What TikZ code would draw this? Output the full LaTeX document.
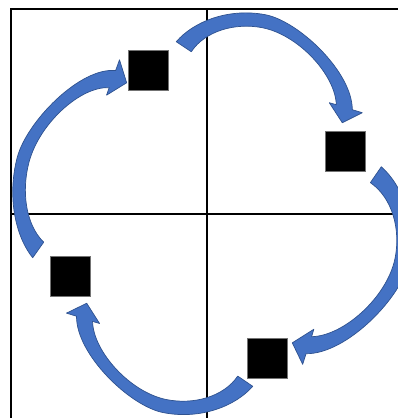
\documentclass[tikz,border=0pt]{standalone}
\usepackage{tikz}
\usetikzlibrary{calc}
\definecolor{arrowblue}{RGB}{68,114,196}
\definecolor{arrowedge}{RGB}{47,82,143}
\tikzset{
  grid line/.style={
    line width=1.6pt,
    color=black
  },
  box/.style={
    rectangle,
    fill=black,
    draw=black!55,
    line width=0.4pt,
    inner sep=0pt,
    minimum size=1cm
  },
  bent arrow/.style={
    fill=arrowblue,
    draw=arrowedge,
    line width=0.5pt,
    line join=round
  }
}
% one curved block arrow, tail at the origin, in pixel units (y up)
\newcommand{\bentarrow}{%
  \filldraw[bent arrow] (0,0)
    .. controls (17,20) and (52,34) .. (89,27)
    .. controls (122,20.8) and (176,-30) .. (176,-68)
    -- (186,-71) -- (166,-81) -- (153,-61) -- (160,-63)
    .. controls (159,-33) and (122,7) .. (86,14)
    .. controls (59,19.2) and (29,11) .. (15,-10)
    -- cycle;}

\begin{document}
\begin{tikzpicture}[x=0.025cm, y=-0.025cm]
    \useasboundingbox (0,0) rectangle (398,418);

    % frame and cross
    \draw[grid line] (11,418) -- (11,9) -- (398,9);
    \draw[grid line] (207,9) -- (207,418);
    \draw[grid line] (11,214) -- (398,214);

    % the four squares
    \node[box] (boxa) at (148.5,70) {};
    \node[box] (boxb) at (345.5,151.5) {};
    \node[box] (boxc) at (267,358) {};
    \node[box] (boxd) at (70,276.5) {};

    % tails of the arrows
    \coordinate (taila) at ($(boxa.north east)+(7.5,-8)$);
    \coordinate (tailb) at ($(boxb.south east)+(15.5,-5)$);
    \coordinate (tailc) at ($(boxc.south west)+(6,8)$);
    \coordinate (taild) at ($(boxd.north west)+(-17,1.5)$);

    % arrows: boxa -> boxb -> boxc -> boxd -> boxa
    \begin{scope}[shift={(taila)}, x=0.025cm, y=0.025cm]
      \bentarrow
    \end{scope}
    \begin{scope}[shift={(tailb)}, x=0.025cm, y=0.025cm, rotate=-90.81, scale=1.068]
      \bentarrow
    \end{scope}
    \begin{scope}[shift={(tailc)}, x=0.025cm, y=0.025cm, rotate=179.44, scale=1.005]
      \bentarrow
    \end{scope}
    \begin{scope}[shift={(taild)}, x=0.025cm, y=0.025cm, rotate=84.29, scale=1.105, yscale=0.85]
      \bentarrow
    \end{scope}

\end{tikzpicture}
\end{document}
